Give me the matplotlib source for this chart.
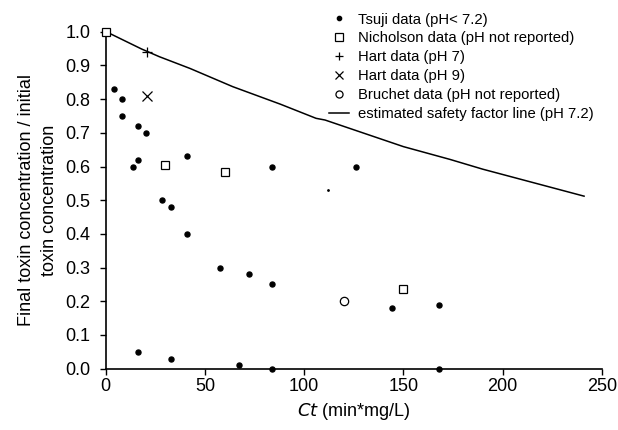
import matplotlib
matplotlib.use("Agg")
import matplotlib.pyplot as plt

plt.rcParams['font.family'] = ['Liberation Sans', 'DejaVu Sans']

# Tsuji data (pH < 7.2)
tsuji_ct = [4, 8, 8, 16.5, 20.5, 14, 16.5, 41, 84, 126, 28.5, 33, 41, 57.5, 72, 84,
            16.5, 33, 67, 84, 144, 168, 168]
tsuji_ratio = [0.83, 0.80, 0.75, 0.72, 0.70, 0.60, 0.62, 0.63, 0.60, 0.60, 0.50, 0.48,
               0.40, 0.30, 0.28, 0.25, 0.05, 0.03, 0.01, 0.0, 0.18, 0.19, 0.0]

# Nicholson data
nich_ct = [0, 30, 60, 150]
nich_ratio = [1.0, 0.605, 0.585, 0.235]

# Hart data
hart7_ct = [21]
hart7_ratio = [0.94]
hart9_ct = [21]
hart9_ratio = [0.81]

# Bruchet data
bruchet_ct = [120]
bruchet_ratio = [0.20]

# stray point
stray_ct = [112]
stray_ratio = [0.53]

# estimated safety factor line (pH 7.2)
line_ct = [0, 2, 18, 27, 42.5, 64, 88, 106, 110.5, 150, 173.5, 190, 241]
line_ratio = [1.0, 0.995, 0.949, 0.926, 0.891, 0.837, 0.785, 0.743, 0.738, 0.659,
              0.621, 0.592, 0.512]

fig = plt.figure(figsize=(6.18, 4.30), dpi=100)
ax = fig.add_axes([0.171, 0.1426, 0.803, 0.7836])

ax.plot(tsuji_ct, tsuji_ratio, 'o', color='black', ms=3.6, clip_on=False,
        label='Tsuji data (pH< 7.2)')
ax.plot(nich_ct, nich_ratio, 's', mfc='white', mec='black', mew=0.9, ms=6,
        clip_on=False, label='Nicholson data (pH not reported)', zorder=4)
ax.plot(hart7_ct, hart7_ratio, '+', color='black', mew=0.9, ms=7.5, clip_on=False,
        label='Hart data (pH 7)', zorder=4)
ax.plot(hart9_ct, hart9_ratio, 'x', color='black', mew=0.9, ms=6.5, clip_on=False,
        label='Hart data (pH 9)')
ax.plot(bruchet_ct, bruchet_ratio, 'o', mfc='white', mec='black', mew=0.9, ms=6,
        clip_on=False, label='Bruchet data (pH not reported)')
ax.plot(line_ct, line_ratio, '-', color='black', lw=1.1,
        label='estimated safety factor line (pH 7.2)')
ax.plot(stray_ct, stray_ratio, 'o', color='black', ms=1.0)

ax.set_xlim(0, 250)
ax.set_ylim(0, 1.0)
ax.set_xticks([0, 50, 100, 150, 200, 250])
ax.set_yticks([i / 10 for i in range(11)])
ax.set_yticklabels([f'{i / 10:.1f}' for i in range(11)])
ax.tick_params(direction='out', length=4, width=1, labelsize=13, pad=3)
ax.tick_params(axis='y', pad=7)
for s in ['top', 'right']:
    ax.spines[s].set_visible(False)
for s in ['left', 'bottom']:
    ax.spines[s].set_linewidth(1.2)

ax.set_xlabel('$\\it{Ct}$ (min*mg/L)', fontsize=13, labelpad=4)
ax.set_ylabel('Final toxin concentration / initial\ntoxin concentration',
              fontsize=13, labelpad=5, linespacing=1.45)

fig.legend(loc='upper left', bbox_to_anchor=(0.515, 0.995), frameon=False,
           fontsize=10.7, handlelength=1.4, handletextpad=0.55, labelspacing=0.33,
           borderpad=0.2, markerscale=0.85)

fig.savefig('out.png', dpi=100)
